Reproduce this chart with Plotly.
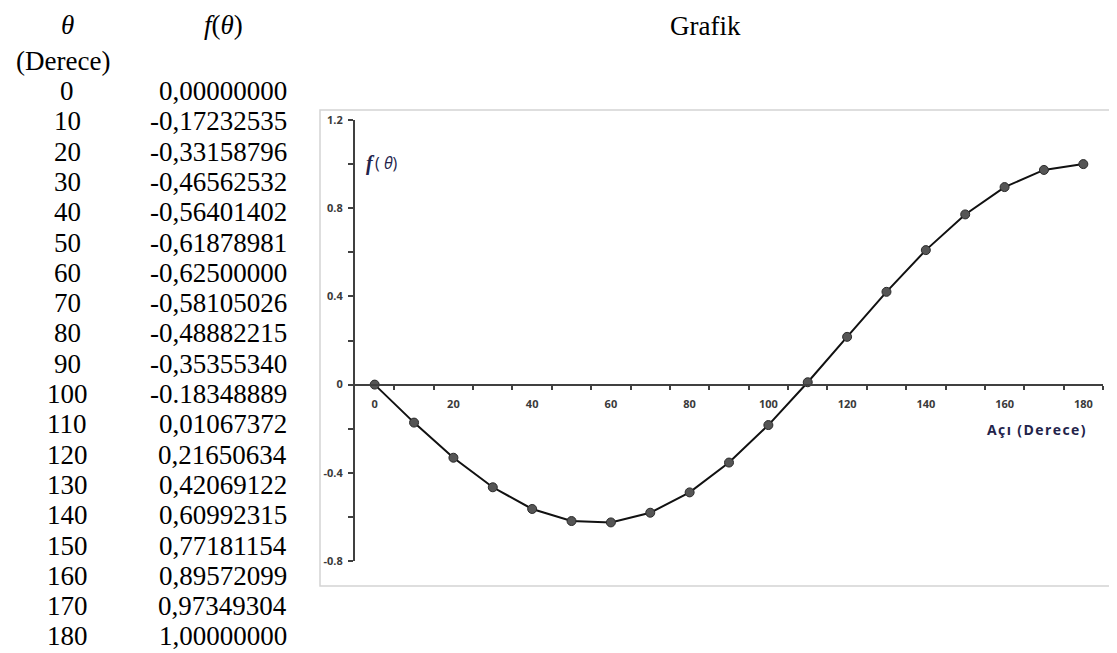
import plotly.graph_objects as go

# ---- data ----
theta = [0, 10, 20, 30, 40, 50, 60, 70, 80, 90, 100, 110, 120, 130, 140, 150, 160, 170, 180]
f_text = ["0,00000000", "-0,17232535", "-0,33158796", "-0,46562532", "-0,56401402",
          "-0,61878981", "-0,62500000", "-0,58105026", "-0,48882215", "-0,35355340",
          "-0.18348889", "0,01067372", "0,21650634", "0,42069122", "0,60992315",
          "0,77181154", "0,89572099", "0,97349304", "1,00000000"]
f_values = [float(s.replace(",", ".")) for s in f_text]

x_tick_vals = [0, 20, 40, 60, 80, 100, 120, 140, 160, 180]
x_minor_vals = [5, 15, 25, 35, 45, 55, 65, 75, 85, 95, 105, 115, 125, 135, 145, 155, 165, 175, 185]
y_tick_vals = [-0.8, -0.4, 0, 0.4, 0.8, 1.2]
y_tick_text = ["-0.8", "-0.4", "0", "0.4", "0.8", "1.2"]
y_minor_vals = [-0.6, -0.2, 0.2, 0.6, 1.0]

# ---- layout geometry (pixels) ----
W_PX, H_PX = 1117, 653
L, R, T, B = 347, 22, 112, 100
PW = W_PX - L - R
PH = H_PX - T - B


def px_x(px):
    return (px - L) / PW


def px_y(py):
    return (H_PX - B - py) / PH


fig = go.Figure()
fig.add_trace(go.Scatter(
    x=theta, y=f_values, mode="lines+markers",
    line=dict(color="#111111", width=2),
    marker=dict(size=9, color="#555555", line=dict(color="#2a2a2a", width=1)),
    showlegend=False, hoverinfo="x+y",
))

axis_font = dict(family="Open Sans, Lato, sans-serif", size=11, color="#3a3a3a", weight="bold")

fig.update_layout(
    width=W_PX, height=H_PX,
    margin=dict(l=L, r=R, t=T, b=B),
    paper_bgcolor="white", plot_bgcolor="white",
    xaxis=dict(
        range=[-5, 185], anchor="free", position=0.4,
        showline=True, linecolor="#404040", linewidth=2,
        showgrid=False, zeroline=False,
        tickmode="array", tickvals=x_tick_vals, ticks="",
        ticklabelstandoff=9,
        tickfont=axis_font,
        minor=dict(tickmode="array", tickvals=x_minor_vals, ticks="outside",
                   ticklen=4, tickwidth=1.5, tickcolor="#404040", showgrid=False),
    ),
    yaxis=dict(
        range=[-0.8, 1.2], domain=[0, 1],
        showline=True, linecolor="#404040", linewidth=2,
        showgrid=False, zeroline=False,
        tickmode="array", tickvals=y_tick_vals, ticktext=y_tick_text,
        ticks="outside", ticklen=5, tickwidth=1.5, tickcolor="#404040",
        ticklabelstandoff=3,
        tickfont=axis_font,
        minor=dict(tickmode="array", tickvals=y_minor_vals, ticks="outside",
                   ticklen=5, tickwidth=1.5, tickcolor="#404040", showgrid=False),
    ),
)

# chart frame
fig.add_shape(type="rect", xref="paper", yref="paper",
              x0=px_x(312), x1=px_x(1111), y0=px_y(578), y1=px_y(102),
              line=dict(color="#d4d4d4", width=1.5), fillcolor="rgba(0,0,0,0)", layer="below")

# axis titles
hs = "\u200a"
navy = "#23234a"
fig.add_annotation(xref="paper", yref="paper", x=px_x(1080), y=px_y(421),
                   xanchor="right", yanchor="middle", showarrow=False,
                   text=hs.join("Açı (Derece)"),
                   font=dict(family="Open Sans, sans-serif", size=14, color=navy, weight="bold"))
fig.add_annotation(xref="paper", yref="paper", x=px_x(356), y=px_y(155),
                   xanchor="left", yanchor="middle", showarrow=False,
                   text="<b><i>f</i></b>",
                   font=dict(family="Liberation Serif, serif", size=20, color=navy))
fig.add_annotation(xref="paper", yref="paper", x=px_x(365), y=px_y(155),
                   xanchor="left", yanchor="middle", showarrow=False,
                   text="( <i>θ</i>)",
                   font=dict(family="Open Sans, sans-serif", size=16, color=navy))

# table + title
serif = dict(family="Liberation Serif, Times New Roman, serif", size=27, color="black")
fig.add_annotation(xref="paper", yref="paper", x=px_x(697), y=px_y(18),
                   xanchor="center", yanchor="middle", showarrow=False, text="Grafik", font=serif)
fig.add_annotation(xref="paper", yref="paper", x=px_x(59), y=px_y(17),
                   xanchor="center", yanchor="middle", showarrow=False, text="<i>θ</i>", font=serif)
fig.add_annotation(xref="paper", yref="paper", x=px_x(215), y=px_y(17),
                   xanchor="center", yanchor="middle", showarrow=False,
                   text="<i>f</i>(<i>θ</i>)", font=serif)
fig.add_annotation(xref="paper", yref="paper", x=px_x(55), y=px_y(53),
                   xanchor="center", yanchor="middle", showarrow=False, text="(Derece)", font=serif)

ROW0, STEP = 83, 30.3
for i, (t, s) in enumerate(zip(theta, f_text)):
    yy = px_y(ROW0 + STEP * i)
    fig.add_annotation(xref="paper", yref="paper", x=px_x(59), y=yy,
                       xanchor="center", yanchor="middle", showarrow=False,
                       text=str(t), font=serif)
    fig.add_annotation(xref="paper", yref="paper", x=px_x(281), y=yy,
                       xanchor="right", yanchor="middle", showarrow=False,
                       text=s, font=serif)

fig.write_html("out.html")
